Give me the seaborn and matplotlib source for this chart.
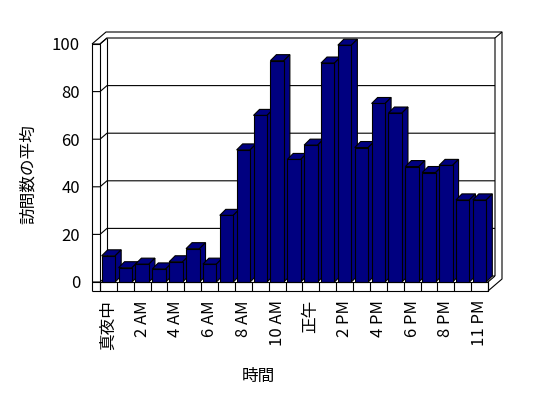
import numpy as np
import matplotlib
matplotlib.use("Agg")
import matplotlib.pyplot as plt
import seaborn as sns
from matplotlib.patches import Polygon

# データ (時間帯ごとの訪問数の平均)
hour_index = list(range(23))
visits = [11, 6, 7.5, 5.5, 8.5, 14, 7.5, 28, 55.5, 70, 93, 51.5, 57.5,
          92, 99.5, 56.5, 75, 71, 48.5, 46, 49, 34.5, 34.5]
tick_pos = [0, 2, 4, 6, 8, 10, 12, 14, 16, 18, 20, 22]
tick_labels = ["真夜中", "2 AM", "4 AM", "6 AM", "8 AM", "10 AM", "正午",
               "2 PM", "4 PM", "6 PM", "8 PM", "11 PM"]
y_ticks = [0, 20, 40, 60, 80, 100]

sns.set_theme(style="white")
plt.rcParams['font.family'] = ['Noto Sans CJK JP', 'DejaVu Sans']
for key in ['text.color', 'axes.labelcolor', 'xtick.color', 'ytick.color']:
    plt.rcParams[key] = 'black'

W, H = 548, 398
fig = plt.figure(figsize=(W / 100, H / 100), dpi=100, facecolor='white')
ax = fig.add_axes([100 / W, 1 - 282 / H, 388 / W, 238 / H])

bar_color = "#000080"
sns.barplot(x=hour_index, y=visits, color=bar_color, width=0.8, saturation=1,
            edgecolor="black", linewidth=0.8, ax=ax)
x0, x1 = -0.5, len(visits) - 0.5
y0, y1 = 0, 100
ax.set_xlim(x0, x1)
ax.set_ylim(y0, y1)

# ピクセル -> データ単位
bb = ax.get_position()
px_x = (x1 - x0) / (bb.width * W)
px_y = (y1 - y0) / (bb.height * H)
dx, dy = 7 * px_x, 6 * px_y      # 奥行き
tl, tf = 8 * px_x, 9 * px_y      # 壁と床の厚さ
bdx, bdy = 6 * px_x, 6 * px_y    # 棒の奥行き

lw = 0.8


def line(pts, z=1):
    xs, ys = zip(*pts)
    ax.plot(xs, ys, color='black', lw=lw, clip_on=False, zorder=z,
            solid_capstyle='butt')


# 目盛線 (左壁の前面 -> 側面 -> 背面の壁)
for v in y_ticks:
    line([(x0 - tl, v), (x0, v), (x0 + dx, v + dy), (x1 + dx, v + dy)])

# 背面の壁と左の壁
line([(x0 + dx, y0 + dy), (x0 + dx, y1 + dy)])
line([(x1 + dx, y0 + dy), (x1 + dx, y1 + dy), (x1 + 2 * dx, y1 + 2 * dy)])
line([(x0 - tl, y1), (x0 - tl + 2 * dx, y1 + 2 * dy), (x1 + 2 * dx, y1 + 2 * dy),
      (x1 + 2 * dx, y0 - tf + 2 * dy), (x1, y0 - tf)])
line([(x0, y1), (x0 + dx, y1 + dy)])
line([(x0 - tl, y0 - tf), (x0 - tl, y1), (x0, y1), (x0, y0 - tf)])
line([(x1, y0), (x1 + dx, y0 + dy)])

# 床
line([(x0 - tl, y0 - tf), (x1, y0 - tf), (x1, y0), (x0 - tl, y0)], z=40)
for i in range(len(visits) + 1):
    xb = x0 + i
    line([(xb, y0 - tf), (xb, y0)], z=40)

# 棒の上面と側面
for i, p in enumerate(ax.patches):
    xl, w, h = p.get_x(), p.get_width(), p.get_height()
    p.set_zorder(3 + 2 * i + 1)
    p.set_clip_on(False)
    top = Polygon([(xl, h), (xl + w, h), (xl + w + bdx, h + bdy), (xl + bdx, h + bdy)],
                  closed=True, facecolor=bar_color, edgecolor='black', lw=lw,
                  clip_on=False, zorder=3 + 2 * i)
    side = Polygon([(xl + w, 0), (xl + w, h), (xl + w + bdx, h + bdy), (xl + w + bdx, bdy)],
                   closed=True, facecolor=bar_color, edgecolor='black', lw=lw,
                   clip_on=False, zorder=3 + 2 * i)
    ax.add_patch(top)
    ax.add_patch(side)

for s in ax.spines.values():
    s.set_visible(False)

ax.set_yticks(y_ticks)
ax.set_yticklabels([str(v) for v in y_ticks], fontsize=12)
ax.set_xticks(tick_pos)
ax.set_xticklabels(tick_labels, fontsize=12, rotation=90)
ax.tick_params(axis='y', length=0, pad=14.4)
ax.tick_params(axis='x', length=0, pad=13)

ax.set_xlabel("時間", fontsize=12)
ax.set_ylabel("訪問数の平均", fontsize=12)
ax.xaxis.set_label_coords(0.407, -0.361)
ax.yaxis.set_label_coords(-0.162, 0.452)

fig.savefig("out.png", dpi=100, facecolor='white')
